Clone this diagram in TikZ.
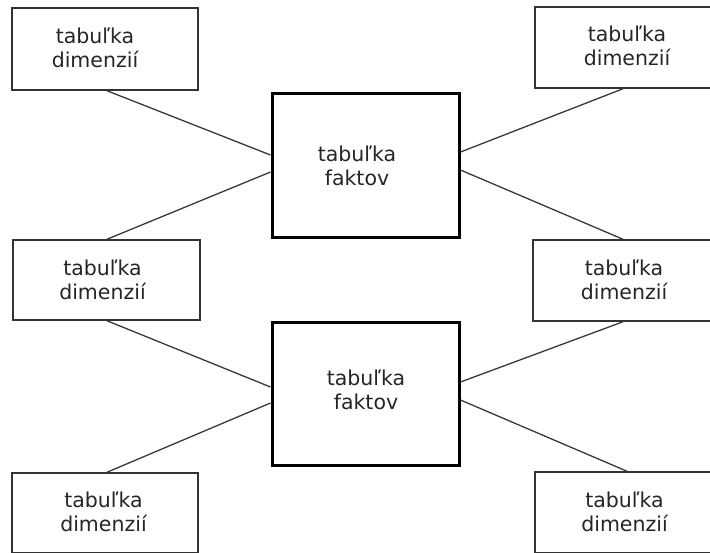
\documentclass[tikz,border=0pt]{standalone}
\usepackage{fontspec}
\setmainfont{DejaVu Sans}
\begin{document}
\begin{tikzpicture}[x=1pt,y=-1pt,
  dimbox/.style={draw=black!80, line width=1.5pt, fill=white, inner sep=0pt},
  factbox/.style={draw=black, line width=3pt, fill=white, inner sep=0pt},
  caption/.style={align=center, font=\fontsize{20.5}{24}\selectfont, text=black!85},
  link/.style={draw=black!78, line width=1.3pt}]
\useasboundingbox (0,0) rectangle (710,552);
\clip (0,0) rectangle (710,552);

% fact tables
\node[factbox, minimum width=187pt, minimum height=144pt] (f1) at (365.5,165) {};
\node[factbox, minimum width=187pt, minimum height=143pt] (f2) at (365.5,393.5) {};

% dimension tables
\node[dimbox, minimum width=186pt, minimum height=82pt] (d1) at (105,49) {};
\node[dimbox, minimum width=184pt, minimum height=81pt] (d2) at (627,47.5) {};
\node[dimbox, minimum width=187pt, minimum height=80pt] (d3) at (106.5,280) {};
\node[dimbox, minimum width=186pt, minimum height=81pt] (d4) at (626,280.5) {};
\node[dimbox, minimum width=186pt, minimum height=80pt] (d5) at (105,513) {};
\node[dimbox, minimum width=184pt, minimum height=81pt] (d6) at (627,512.5) {};

% captions
\node[caption] (t1) at (95,48) {tabuľka\\dimenzií};
\node[caption] (t2) at (627,46) {tabuľka\\dimenzií};
\node[caption] (t3) at (102.5,280) {tabuľka\\dimenzií};
\node[caption] (t4) at (624,280) {tabuľka\\dimenzií};
\node[caption] (t5) at (103.5,512) {tabuľka\\dimenzií};
\node[caption] (t6) at (624.5,512) {tabuľka\\dimenzií};
\node[caption] (t7) at (357,166) {tabuľka\\faktov};
\node[caption] (t8) at (366,390) {tabuľka\\faktov};

% connectors between dimension and fact tables
\path[link] ([xshift=2pt]d1.south) -- ([yshift=10pt]f1.west);
\path[link] ([xshift=0.5pt]d3.north) -- ([yshift=-7pt]f1.west);
\path[link] ([xshift=-4pt]d2.south) -- ([yshift=13pt]f1.east);
\path[link] ([xshift=-3pt]d4.north) -- ([yshift=-5pt]f1.east);
\path[link] ([xshift=0.5pt]d3.south) -- ([yshift=6.5pt]f2.west);
\path[link] ([xshift=2pt]d5.north) -- ([yshift=-9.5pt]f2.west);
\path[link] ([xshift=-3pt]d4.south) -- ([yshift=11.5pt]f2.east);
\path[link] (d6.north) -- ([yshift=-6.5pt]f2.east);
\end{tikzpicture}
\end{document}
